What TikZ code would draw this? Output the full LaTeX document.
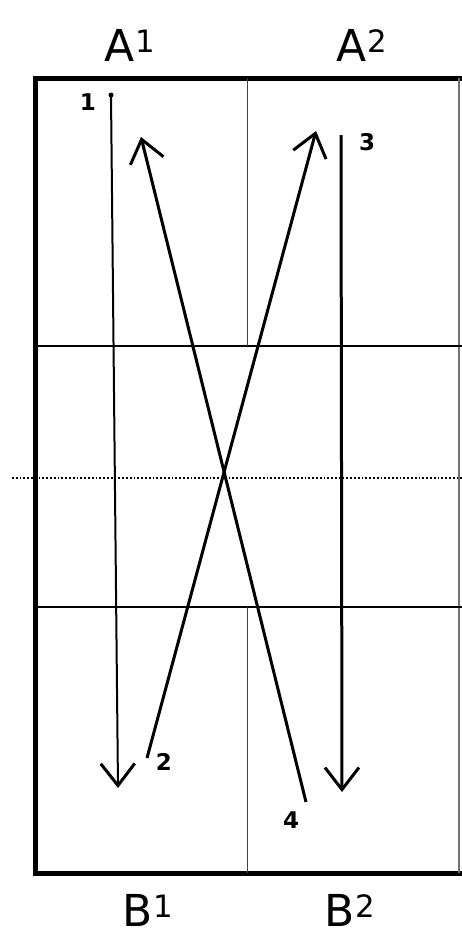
\documentclass[tikz,border=0pt]{standalone}
\usepackage{fontspec}
\setmainfont{DejaVu Sans}
\usetikzlibrary{arrows.meta}
\begin{document}
\begin{tikzpicture}[x=1pt,y=-1pt,
  frame/.style={line width=5pt},
  grid/.style={line width=2.2pt},
  thin/.style={line width=1pt,black!75},
  mv/.style={line width=3pt,-{Straight Barb[length=22pt,width=34pt,line width=3pt]}},
  lbl/.style={font=\fontsize{44}{44}\selectfont},
  num/.style={font=\bfseries\fontsize{23}{23}\selectfont}]
\useasboundingbox (0,0) rectangle (462,935);
% frame
\draw[frame] (462,78) -- (35,78) -- (35,873) -- (462,873);
\draw[line width=1.8pt,black!55] (459,78) -- (459,873);
% horizontal grid lines
\draw[grid] (35,346) -- (462,346);
\draw[grid] (35,607) -- (462,607);
\draw[line width=1.8pt,dotted] (12,478) -- (462,478);
% center vertical line
\draw[thin] (247,78) -- (247,346);
\draw[thin] (247,607) -- (247,873);
% arrow endpoints
\coordinate (t1) at (111,95);
\coordinate (h1) at (118,788);
\coordinate (t2) at (147,758);
\coordinate (h2) at (316,131);
\coordinate (t3) at (341,135);
\coordinate (h3) at (342,792);
\coordinate (t4) at (306,802);
\coordinate (h4) at (141,137);
\fill (t1) circle (2.5pt);
\draw[mv,line width=2pt] (t1) -- (h1);
\draw[mv] (t2) -- (h2);
\draw[mv] (t3) -- (h3);
\draw[mv] (t4) -- (h4);
% labels
\node[num] (n1) at (88,102) {1};
\node[num] (n2) at (164,762) {2};
\node[num] (n3) at (367,142) {3};
\node[num] (n4) at (291,820) {4};
\node[lbl] (A1) at (130,45) {A\textsuperscript{1}};
\node[lbl] (A2) at (362,45) {A\textsuperscript{2}};
\node[lbl] (B1) at (148,910) {B\textsuperscript{1}};
\node[lbl] (B2) at (350,910) {B\textsuperscript{2}};
\end{tikzpicture}
\end{document}
